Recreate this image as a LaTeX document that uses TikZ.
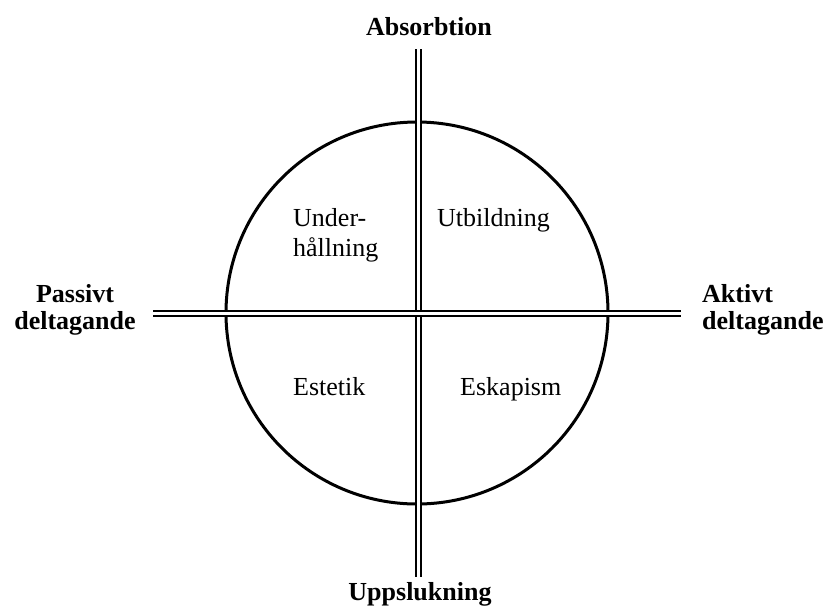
\documentclass[tikz,border=0pt]{standalone}
\usepackage{fontspec}
\setmainfont{Liberation Serif}
\begin{document}
\begin{tikzpicture}[x=1pt,y=-1pt,
  axis/.style={draw=black,line width=2pt,double=white,double distance=3pt},
  ring/.style={draw=black,line width=3pt},
  pole/.style={font=\fontsize{26}{27}\selectfont\bfseries,inner sep=0pt,anchor=base},
  quad/.style={font=\fontsize{26}{30}\selectfont,inner sep=0pt,anchor=base west,align=left}]
\useasboundingbox (0,0) rectangle (824,614);
% experience circle
\node[ring,circle,minimum size=382pt,inner sep=0pt] (c) at (417,313) {};
% axes
\coordinate (top) at (418,49);
\coordinate (bot) at (418,577);
\coordinate (lft) at (153,313);
\coordinate (rgt) at (681,313);
\draw[axis] (top) -- (bot);
\draw[axis] (lft) -- (rgt);
% pole labels (multi-line nodes sit on the baseline of their last line)
\node[pole] (abs) at (429,35) {Absorbtion};
\node[pole] (upp) at (420,600) {Uppslukning};
\node[pole,align=center,anchor=base] (pas) at (75,329) {Passivt\\deltagande};
\node[pole,align=left,anchor=base west] (akt) at (702,329) {Aktivt\\deltagande};
% quadrant labels
\node[quad] (und) at (293,256) {Under-\\hållning};
\node[quad] (utb) at (437,226) {Utbildning};
\node[quad] (est) at (293,395) {Estetik};
\node[quad] (esk) at (460,395) {Eskapism};
\end{tikzpicture}
\end{document}
